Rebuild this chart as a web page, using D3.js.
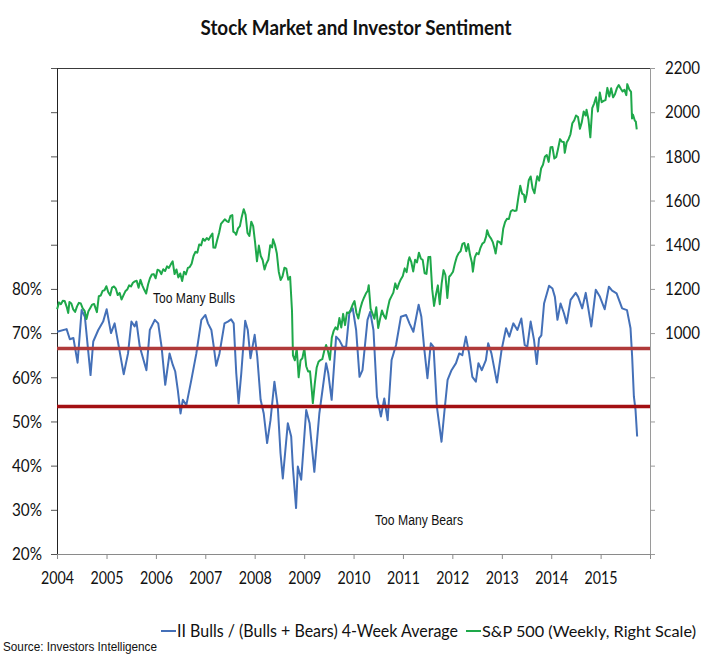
<!DOCTYPE html>
<html><head><meta charset="utf-8">
<script src="https://cdn.jsdelivr.net/npm/d3@7"></script>
<style>body{margin:0;background:#fff}svg{display:block}</style>
</head><body><svg id="c" width="712" height="657"></svg>
<script>
// ---------------- DATA ----------------
const yearLabels = ["2004","2005","2006","2007","2008","2009","2010","2011","2012","2013","2014","2015"];
const leftTickLabels = ["20%","30%","40%","50%","60%","70%","80%"];
const rightTickLabels = [1000,1200,1400,1600,1800,2000,2200];
const thresholds = [66.5, 53.4];

const bullsDates = ["2004-01-02","2004-03-12","2004-04-05","2004-05-01","2004-06-01","2004-07-01","2004-07-25","2004-09-05","2004-09-25","2004-11-01","2004-12-07",
"2005-01-02","2005-02-03","2005-03-02","2005-05-08","2005-06-09","2005-07-04","2005-07-28","2005-08-10","2005-09-04","2005-10-23","2005-11-17","2005-12-24",
"2006-01-18","2006-02-12","2006-03-11","2006-04-12","2006-05-06","2006-05-24","2006-06-12","2006-07-02","2006-07-19","2006-08-14","2006-09-20","2006-10-27","2006-12-03",
"2007-01-02","2007-01-21","2007-02-15","2007-03-05","2007-03-23","2007-04-16","2007-05-23","2007-06-17","2007-07-11","2007-07-30","2007-08-18","2007-09-04","2007-09-24","2007-10-23","2007-11-11","2007-12-01",
"2008-01-01","2008-01-20","2008-02-14","2008-03-08","2008-04-02","2008-04-27","2008-05-26","2008-06-20","2008-07-10","2008-07-27","2008-09-02","2008-09-27","2008-10-09","2008-11-02","2008-11-15","2008-12-10",
"2009-01-16","2009-02-10","2009-03-17","2009-04-23","2009-06-12","2009-06-28","2009-07-23","2009-08-25","2009-09-18","2009-10-13","2009-11-07","2009-12-01","2009-12-26",
"2010-01-20","2010-02-14","2010-03-08","2010-04-14","2010-05-04","2010-05-28","2010-06-23","2010-07-22","2010-08-16","2010-09-10","2010-10-09","2010-11-11","2010-12-17",
"2011-01-24","2011-02-18","2011-03-19","2011-04-27","2011-05-17","2011-06-06","2011-07-01","2011-07-26","2011-08-15","2011-09-09","2011-10-13","2011-11-02","2011-11-27","2011-12-26",
"2012-01-28","2012-02-21","2012-03-15","2012-04-10","2012-05-04","2012-05-28","2012-06-23","2012-07-12","2012-08-06","2012-09-05","2012-09-22","2012-10-16","2012-11-26","2012-12-30",
"2013-02-01","2013-02-25","2013-03-27","2013-04-26","2013-05-25","2013-06-19","2013-07-08","2013-08-02","2013-08-27","2013-09-16","2013-10-03","2013-10-20","2013-11-09","2013-12-16",
"2014-01-10","2014-01-28","2014-02-16","2014-03-11","2014-04-05","2014-04-25","2014-05-24","2014-07-01","2014-07-19","2014-08-18","2014-09-13","2014-10-24","2014-11-26","2014-12-27",
"2015-01-31","2015-03-03","2015-03-27","2015-04-29","2015-06-09","2015-07-15","2015-08-10","2015-08-22","2015-09-04","2015-09-16","2015-09-28"];
const bullsPct = [70.3,70.9,68.6,68.9,63.3,75.2,73.7,60.5,68.1,70.7,72.6,
75.4,70.0,72.2,60.7,65.4,72.6,71.5,72.6,66.9,61.6,70.7,73.0,
72.2,66.9,58.3,65.4,62.8,61.3,57.1,51.8,54.9,53.7,59.4,65.4,73.0,
74.1,72.2,70.7,66.9,62.6,65.4,72.2,72.6,73.1,72.2,60.9,54.1,60.9,72.8,70.7,64.3,
69.6,64.7,54.9,51.8,45.1,50.3,59.0,53.3,42.8,37.1,49.6,46.6,39.8,30.4,39.8,36.8,
52.6,49.6,38.6,51.8,63.2,60.9,54.9,69.2,68.4,66.9,66.9,74.5,75.6,
70.7,60.1,61.6,73.0,74.8,70.7,55.6,51.1,55.2,50.3,63.9,67.3,73.7,
74.1,72.2,70.3,76.4,73.7,66.9,59.8,67.7,66.9,53.3,45.4,51.8,59.4,61.6,
63.2,65.4,65.0,69.2,65.4,60.1,59.0,63.2,61.6,63.9,67.7,65.4,58.8,66.2,
71.1,69.2,72.2,70.7,73.3,67.3,66.9,72.6,68.4,63.0,68.8,69.5,76.7,80.7,
80.1,78.2,73.0,76.7,74.5,72.2,77.5,79.1,78.2,75.6,79.1,71.5,79.8,78.2,
75.4,80.5,79.6,79.0,75.6,75.2,71.1,64.7,55.6,52.6,46.6];

const spxDates = ["2004-01-02","2004-01-16","2004-01-30","2004-02-13","2004-02-27","2004-03-12","2004-03-24","2004-04-02","2004-04-16","2004-04-30","2004-05-14","2004-05-28","2004-06-11","2004-06-25","2004-07-09","2004-07-23","2004-08-06","2004-08-20","2004-09-03","2004-09-17","2004-10-01","2004-10-22","2004-11-05","2004-11-19","2004-12-03","2004-12-17","2004-12-31",
"2005-01-14","2005-01-28","2005-02-11","2005-02-25","2005-03-11","2005-03-25","2005-04-08","2005-04-22","2005-05-06","2005-05-20","2005-06-03","2005-06-17","2005-07-01","2005-07-15","2005-07-29","2005-08-12","2005-08-26","2005-09-09","2005-09-23","2005-10-07","2005-10-21","2005-11-04","2005-11-18","2005-12-02","2005-12-16","2005-12-30",
"2006-01-13","2006-01-27","2006-02-10","2006-02-24","2006-03-10","2006-03-24","2006-04-07","2006-04-21","2006-05-05","2006-05-19","2006-06-02","2006-06-16","2006-06-30","2006-07-14","2006-07-28","2006-08-11","2006-08-25","2006-09-08","2006-09-22","2006-10-06","2006-10-20","2006-11-03","2006-11-17","2006-12-01","2006-12-15","2006-12-29",
"2007-01-12","2007-01-26","2007-02-09","2007-02-23","2007-03-02","2007-03-16","2007-03-30","2007-04-13","2007-04-27","2007-05-11","2007-05-25","2007-06-08","2007-06-22","2007-07-06","2007-07-20","2007-07-27","2007-08-10","2007-08-17","2007-08-31","2007-09-14","2007-09-28","2007-10-12","2007-10-26","2007-11-09","2007-11-23","2007-12-07","2007-12-21",
"2008-01-04","2008-01-18","2008-02-01","2008-02-15","2008-02-29","2008-03-14","2008-03-28","2008-04-11","2008-04-25","2008-05-09","2008-05-16","2008-05-30","2008-06-13","2008-06-27","2008-07-11","2008-07-25","2008-08-08","2008-08-22","2008-09-05","2008-09-19","2008-10-03","2008-10-10","2008-10-24","2008-11-07","2008-11-21","2008-12-05","2008-12-19",
"2009-01-02","2009-01-16","2009-01-30","2009-02-13","2009-02-27","2009-03-06","2009-03-20","2009-04-03","2009-04-17","2009-05-01","2009-05-15","2009-05-29","2009-06-12","2009-06-26","2009-07-10","2009-07-24","2009-08-07","2009-08-21","2009-09-04","2009-09-18","2009-10-02","2009-10-16","2009-10-30","2009-11-13","2009-11-27","2009-12-11","2009-12-24",
"2010-01-08","2010-01-22","2010-02-05","2010-02-19","2010-03-05","2010-03-19","2010-04-02","2010-04-16","2010-04-23","2010-05-07","2010-05-21","2010-06-04","2010-06-18","2010-07-02","2010-07-16","2010-07-30","2010-08-13","2010-08-27","2010-09-10","2010-09-24","2010-10-08","2010-10-22","2010-11-05","2010-11-19","2010-12-03","2010-12-17","2010-12-31",
"2011-01-14","2011-01-28","2011-02-11","2011-02-18","2011-03-04","2011-03-18","2011-04-01","2011-04-15","2011-04-29","2011-05-13","2011-05-27","2011-06-10","2011-06-24","2011-07-08","2011-07-22","2011-08-05","2011-08-19","2011-09-02","2011-09-16","2011-09-30","2011-10-14","2011-10-28","2011-11-11","2011-11-25","2011-12-09","2011-12-23",
"2012-01-06","2012-01-20","2012-02-03","2012-02-17","2012-03-02","2012-03-16","2012-03-30","2012-04-13","2012-04-27","2012-05-11","2012-05-25","2012-06-01","2012-06-15","2012-06-29","2012-07-13","2012-07-27","2012-08-10","2012-08-24","2012-09-07","2012-09-14","2012-09-28","2012-10-12","2012-10-26","2012-11-09","2012-11-16","2012-11-30","2012-12-14","2012-12-28",
"2013-01-11","2013-01-25","2013-02-08","2013-02-22","2013-03-08","2013-03-22","2013-04-05","2013-04-19","2013-05-03","2013-05-17","2013-05-31","2013-06-14","2013-06-21","2013-07-05","2013-07-19","2013-08-02","2013-08-16","2013-08-30","2013-09-13","2013-09-20","2013-10-04","2013-10-18","2013-11-01","2013-11-15","2013-11-29","2013-12-13","2013-12-27",
"2014-01-10","2014-01-24","2014-02-07","2014-02-21","2014-03-07","2014-03-21","2014-04-04","2014-04-11","2014-04-25","2014-05-09","2014-05-23","2014-06-06","2014-06-20","2014-07-03","2014-07-18","2014-08-01","2014-08-15","2014-08-29","2014-09-12","2014-09-19","2014-10-03","2014-10-17","2014-10-31","2014-11-14","2014-11-28","2014-12-12","2014-12-26",
"2015-01-09","2015-01-23","2015-02-06","2015-02-20","2015-03-06","2015-03-20","2015-04-03","2015-04-17","2015-05-01","2015-05-15","2015-05-29","2015-06-12","2015-06-26","2015-07-10","2015-07-17","2015-07-31","2015-08-14","2015-08-21","2015-08-28","2015-09-11","2015-09-18","2015-09-25"];
const spxValues = [1108,1139,1131,1146,1145,1120,1091,1141,1134,1107,1096,1121,1137,1134,1112,1101,1064,1099,1114,1129,1132,1095,1167,1170,1191,1194,1212,
1185,1171,1206,1211,1201,1172,1182,1152,1171,1189,1197,1216,1211,1228,1234,1237,1205,1241,1215,1196,1179,1220,1248,1265,1267,1248,
1287,1283,1267,1289,1281,1302,1295,1311,1325,1267,1288,1252,1270,1236,1278,1266,1295,1299,1314,1349,1368,1364,1401,1397,1427,1418,
1430,1422,1438,1451,1387,1386,1421,1453,1494,1505,1515,1507,1503,1530,1534,1459,1453,1445,1474,1484,1527,1561,1535,1453,1440,1504,1484,
1411,1325,1396,1349,1331,1288,1315,1332,1398,1388,1425,1400,1360,1278,1240,1257,1296,1292,1242,1255,1100,899,877,930,800,876,887,
931,850,826,827,735,683,769,843,870,878,882,919,946,918,879,979,1010,1026,1016,1068,1025,1087,1036,1093,1091,1106,1127,
1145,1092,1066,1109,1139,1160,1179,1192,1217,1111,1088,1065,1117,1023,1065,1102,1079,1065,1110,1149,1166,1183,1225,1200,1225,1244,1258,
1293,1276,1329,1343,1321,1279,1332,1320,1364,1338,1331,1271,1268,1344,1345,1199,1123,1174,1216,1131,1224,1285,1263,1159,1255,1265,
1278,1315,1345,1362,1370,1404,1408,1370,1403,1353,1318,1278,1343,1362,1357,1386,1405,1411,1438,1466,1441,1429,1412,1380,1360,1416,1413,1402,
1472,1503,1518,1516,1551,1557,1553,1555,1614,1667,1631,1626,1593,1632,1692,1709,1655,1633,1688,1710,1690,1745,1762,1798,1806,1775,1841,
1842,1790,1797,1836,1878,1866,1865,1816,1863,1878,1900,1950,1963,1985,1978,1925,1955,2003,1985,2011,1968,1886,2018,2039,2068,2003,2089,
2045,2051,2055,2110,2071,2108,2067,2081,2108,2123,2107,2094,2101,2077,2127,2104,2092,1971,1989,1961,1958,1922];

// ---------------- CHART ----------------
const FONT = "Lato,'Open Sans',sans-serif";
const FONT2 = "'Liberation Sans',Arial,sans-serif";
const BLUE = "#4470b8", GREEN = "#1ea84a";
const svg = d3.select("#c");
const L = 57, R = 650, T = 68, B = 554;
const parse = d3.timeParse("%Y-%m-%d");
const x = d3.scaleTime().domain([new Date(2004,0,1), new Date(2016,0,1)]).range([L, R]);
const yL = d3.scaleLinear().domain([20,130]).range([B, T]);
const yR = d3.scaleLinear().domain([0,2200]).range([B, T]);

// horizontally condense a text node to a given width (mimics a narrow font)
function squeeze(node, w) {
  if (!node.textContent) return;
  d3.select(node).attr("textLength", w).attr("lengthAdjust", "spacingAndGlyphs");
}

const title = svg.append("text").attr("x",356).attr("y",35).attr("text-anchor","middle")
  .style("font-family",FONT).style("font-weight","bold").style("font-size","20px").attr("fill","#111")
  .text("Stock Market and Investor Sentiment");
squeeze(title.node(), 311);

// top border
svg.append("line").attr("x1",L).attr("x2",R).attr("y1",T+0.5).attr("y2",T+0.5).attr("stroke","#3a3a3a").attr("stroke-width",1);

// left axis
const leftVals = d3.range(20,131,10);
const gl = svg.append("g").attr("transform",`translate(${L},0)`)
  .call(d3.axisLeft(yL).tickValues(leftVals).tickSize(6).tickSizeOuter(0).tickPadding(9)
     .tickFormat(d => { const i = leftTickLabels.indexOf(d + "%"); return i >= 0 ? leftTickLabels[i] : ""; }));
gl.select(".domain").attr("stroke","#222");
gl.selectAll(".tick line").attr("stroke","#555");
gl.selectAll("text").style("font-family",FONT).style("font-size","18px").attr("fill","#111");
gl.selectAll("text").each(function(){ squeeze(this, 30); });

// right axis
const gr = svg.append("g").attr("transform",`translate(${R},0)`)
  .call(d3.axisRight(yR).tickValues(d3.range(0,2201,200)).tickSize(5).tickSizeOuter(0).tickPadding(10)
     .tickFormat(d => rightTickLabels.includes(d) ? String(d) : ""));
gr.select(".domain").attr("stroke","#9a9a9a");
gr.selectAll(".tick line").attr("stroke","#9a9a9a");
gr.selectAll("text").style("font-family",FONT).style("font-size","18px").attr("fill","#111");
gr.selectAll("text").each(function(){ squeeze(this, 35); });

// bottom axis
const yearTicks = yearLabels.map(y => new Date(+y,0,1)).concat([new Date(2016,0,1)]);
const gb = svg.append("g").attr("transform",`translate(0,${B})`)
  .call(d3.axisBottom(x).tickValues(yearTicks).tickSize(5).tickSizeOuter(0).tickPadding(12)
     .tickFormat(d => { const s = String(d.getFullYear()); return yearLabels.includes(s) ? s : ""; }));
gb.select(".domain").attr("stroke","#8a8a8a");
gb.selectAll(".tick line").attr("stroke","#8a8a8a");
gb.selectAll("text").style("font-family",FONT).style("font-size","18px").attr("fill","#111");
gb.selectAll("text").each(function(){ squeeze(this, 33); });

// series
const bulls = bullsDates.map((d,i) => ({d: parse(d), v: bullsPct[i]}));
const spx = spxDates.map((d,i) => ({d: parse(d), v: spxValues[i]}));
svg.append("path").datum(bulls).attr("fill","none").attr("stroke",BLUE).attr("stroke-width",2).attr("stroke-linejoin","round")
  .attr("d", d3.line().x(p => x(p.d)).y(p => yL(p.v)));
svg.append("path").datum(spx).attr("fill","none").attr("stroke",GREEN).attr("stroke-width",2).attr("stroke-linejoin","round")
  .attr("d", d3.line().x(p => x(p.d)).y(p => yR(p.v)));

// threshold lines
const redCols = ["#b03a3a","#a30f12"];
thresholds.forEach((t,i) => {
  svg.append("line").attr("x1",L).attr("x2",R).attr("y1",yL(t)).attr("y2",yL(t))
    .attr("stroke",redCols[i]).attr("stroke-width",3.5);
});

// annotations
const a1 = svg.append("text").attr("x",153).attr("y",303).style("font-family",FONT2).style("font-size","14px").attr("fill","#111").text("Too Many Bulls");
squeeze(a1.node(), 82);
const a2 = svg.append("text").attr("x",375).attr("y",525).style("font-family",FONT2).style("font-size","14px").attr("fill","#111").text("Too Many Bears");
squeeze(a2.node(), 88);

// legend
const legend = [
  {name:"II Bulls / (Bulls + Bears) 4-Week Average", color:BLUE, x:161, w:281, size:17},
  {name:"S&P 500 (Weekly, Right Scale)", color:GREEN, x:466, w:214, size:16}
];
legend.forEach(l => {
  svg.append("line").attr("x1",l.x).attr("x2",l.x+15).attr("y1",631).attr("y2",631).attr("stroke",l.color).attr("stroke-width",2);
  const t = svg.append("text").attr("x",l.x+16+l.w).attr("y",637).attr("text-anchor","end")
    .style("font-family",FONT).style("font-size",l.size+"px").attr("fill","#111").text(l.name);
  squeeze(t.node(), l.w);
});

const src = svg.append("text").attr("x",3).attr("y",651).style("font-family",FONT2).style("font-size","13px").attr("fill","#111").text("Source: Investors Intelligence");
squeeze(src.node(), 154);
</script></body></html>
